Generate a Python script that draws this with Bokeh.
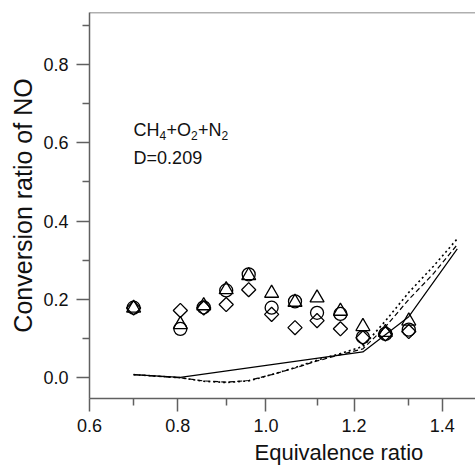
import math
from bokeh.plotting import figure
from bokeh.models import Range1d, FixedTicker, Label, Span, Title
from bokeh.embed import file_html
from bokeh.resources import INLINE

# ---- data ----
phi = [0.70, 0.806, 0.859, 0.91, 0.961, 1.013, 1.066, 1.116, 1.169, 1.22, 1.271, 1.324]
circle_y = [0.179, 0.125, 0.180, 0.223, 0.264, 0.179, 0.195, 0.166, 0.163, 0.104, 0.112, 0.123]
triangle_y = [0.178, 0.136, 0.184, 0.225, 0.261, 0.216, 0.193, 0.204, 0.170, 0.131, 0.116, 0.145]
diamond_y = [0.178, 0.172, 0.178, 0.187, 0.225, 0.162, 0.128, 0.146, 0.125, 0.102, 0.112, 0.118]

solid_x = [0.70, 0.806, 1.22, 1.324, 1.434]
solid_y = [0.008, 0.001, 0.066, 0.156, 0.329]

calc_x = [0.70, 0.806, 0.859, 0.91, 0.961, 1.013, 1.066, 1.116, 1.169, 1.22, 1.271, 1.324, 1.38, 1.434]
dotted_y = [0.008, 0.0, -0.009, -0.012, -0.008, 0.008, 0.026, 0.045, 0.062, 0.080, 0.145, 0.218, 0.285, 0.355]
dashed_y = [0.008, 0.0, -0.008, -0.011, -0.007, 0.008, 0.025, 0.043, 0.059, 0.074, 0.130, 0.200, 0.266, 0.340]

x_major = [0.6, 0.8, 1.0, 1.2, 1.4]
x_minor = [0.70, 0.91, 1.116, 1.324]
y_major = [0.0, 0.2, 0.4, 0.6, 0.8]
y_minor = [0.1, 0.3, 0.5, 0.7, 0.9]

x_title = "Equivalence ratio"
y_title = "Conversion ratio of NO"
note2 = "D=0.209"

FONT = "Liberation Sans"
AXC = "#606060"
TXT = "#111111"

x_start, x_end = 0.6, 1.4753
y_start, y_end = -0.0529, 0.9328

p = figure(width=475, height=469, output_backend="svg", toolbar_location=None,
           x_range=Range1d(x_start, x_end), y_range=Range1d(y_start, y_end),
           min_border_left=89, min_border_right=0, min_border_top=12, min_border_bottom=71)
p.outline_line_color = None
p.xgrid.visible = False
p.ygrid.visible = False

p.xaxis.ticker = FixedTicker(ticks=x_major, minor_ticks=x_minor)
p.yaxis.ticker = FixedTicker(ticks=y_major, minor_ticks=y_minor)
for ax in (p.xaxis, p.yaxis):
    ax.axis_line_color = AXC
    ax.axis_line_width = 1.5
    ax.major_tick_line_color = AXC
    ax.minor_tick_line_color = AXC
    ax.major_tick_line_width = 1.5
    ax.minor_tick_line_width = 1.5
    ax.major_tick_in = 0
    ax.major_tick_out = 13
    ax.minor_tick_in = 0
    ax.minor_tick_out = 7
    ax.major_label_text_font = FONT
    ax.major_label_text_font_size = "18px"
    ax.major_label_text_color = TXT
p.xaxis.major_label_standoff = 7
p.yaxis.major_label_standoff = 8
p.xaxis.major_label_overrides = {v: f"{v:.1f}" for v in x_major}
p.yaxis.major_label_overrides = {v: f"{v:.1f}" for v in y_major}

yt = Title(text=y_title, align="center", offset=-13, text_font=FONT, text_font_size="25px",
           text_font_style="normal", text_color=TXT, standoff=8)
p.add_layout(yt, "left")

xt = Title(text=x_title, align="left", offset=165, text_font=FONT, text_font_size="22px",
           text_font_style="normal", text_color=TXT, standoff=6)
p.add_layout(xt, "below")

p.add_layout(Span(location=y_end, dimension="width", line_color=AXC, line_width=1.5))

# model curves
p.line(solid_x, solid_y, line_color="black", line_width=1.2)
p.line(calc_x, dashed_y, line_color="black", line_width=1.2, line_dash="5 3")
p.line(calc_x, dotted_y, line_color="black", line_width=1.6, line_dash="2 3")

# measurements
p.scatter(phi, circle_y, marker="circle", size=13, fill_color=None, line_color="black", line_width=1.3)
p.scatter(phi, triangle_y, marker="triangle", size=14, fill_color=None, line_color="black", line_width=1.3)
p.scatter(phi, diamond_y, marker="square", angle=math.pi / 4, size=10, fill_color=None,
          line_color="black", line_width=1.3)

# annotation CH4+O2+N2 with subscripts
parts = [("CH", 0, False), ("4", 26, True), ("+O", 33, False), ("2", 57.5, True), ("+N", 64.5, False), ("2", 88, True)]
for txt, dx, sub in parts:
    p.add_layout(Label(x=0.70, y=0.632 - (0.013 if sub else 0.0), x_offset=dx, text=txt,
                       text_font=FONT, text_font_size="12px" if sub else "18px",
                       text_baseline="alphabetic", text_color=TXT))
p.add_layout(Label(x=0.70, y=0.56, text=note2, text_font=FONT, text_font_size="18px",
                   text_baseline="alphabetic", text_color=TXT))

open("out.html", "w").write(file_html(p, INLINE))
